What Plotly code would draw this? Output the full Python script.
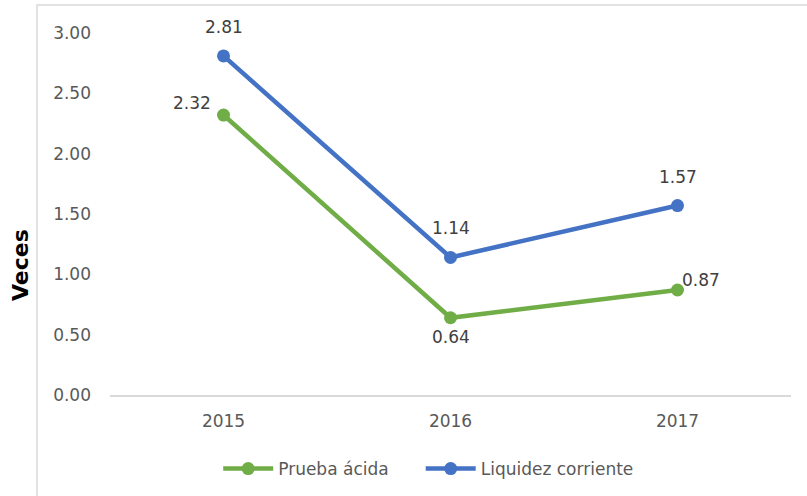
import plotly.graph_objects as go

years = ["2015", "2016", "2017"]
prueba_acida = [2.32, 0.64, 0.87]
liquidez_corriente = [2.81, 1.14, 1.57]
y_ticks = [0, 0.5, 1.0, 1.5, 2.0, 2.5, 3.0]

GREEN = "#70AD47"
BLUE = "#4472C4"
FONT = "DejaVu Sans"
NB = "\u00a0"

W, H = 807, 496
L, R, T, B = 110, 791, 33, 395

def px(x):
    return (x - L) / (R - L)

def py(y):
    return (B - y) / (B - T)

fig = go.Figure()
fig.add_trace(go.Scatter(x=years, y=prueba_acida, mode="lines+markers", name="Prueba ácida" + NB * 5,
                         line=dict(color=GREEN, width=4.5), marker=dict(size=13, color=GREEN)))
fig.add_trace(go.Scatter(x=years, y=liquidez_corriente, mode="lines+markers", name="Liquidez corriente",
                         line=dict(color=BLUE, width=4.5), marker=dict(size=13, color=BLUE)))

annotations = []
green_off = [(-32, 12), (0, -19), (23, 10)]
blue_off = [(0, 29), (0, 29), (0, 29)]
for i, yr in enumerate(years):
    for vals, offs in ((prueba_acida, green_off), (liquidez_corriente, blue_off)):
        annotations.append(dict(x=i, y=vals[i], xref="x", yref="y", text=f"{vals[i]:.2f}", showarrow=False,
                                xanchor="center", yanchor="middle",
                                xshift=offs[i][0], yshift=offs[i][1],
                                font=dict(family=FONT, size=17, color="#404040")))

annotations.append(dict(xref="paper", yref="paper", x=px(20), y=py(265), text="<b>Veces</b>",
                        xanchor="center", yanchor="middle",
                        textangle=-90, showarrow=False, font=dict(family=FONT, size=22, color="#000000")))

fig.update_layout(
    width=W, height=H,
    margin=dict(l=L, r=W - R, t=T, b=H - B, autoexpand=False),
    paper_bgcolor="white", plot_bgcolor="white",
    font=dict(family=FONT, size=17, color="#595959"),
    xaxis=dict(type="category", range=[-0.5, 2.5], showgrid=False, showline=True,
               linecolor="#D9D9D9", linewidth=1.5, ticks="", ticklabelstandoff=10,
               tickfont=dict(size=17, color="#595959")),
    yaxis=dict(range=[0, 3.0], tickvals=y_ticks, tickformat=".2f", showgrid=False, zeroline=False,
               showline=False, ticks="", ticklabelstandoff=18, tickfont=dict(size=17, color="#595959")),
    legend=dict(orientation="h", x=px(225) - 0.01, xanchor="left", y=py(469), yanchor="middle",
                font=dict(family=FONT, size=17, color="#595959"), itemwidth=50),
    annotations=annotations,
    shapes=[dict(type="rect", xref="paper", yref="paper", x0=px(37), x1=px(830), y0=py(520), y1=py(5),
                 line=dict(color="#D9D9D9", width=1.5), layer="below")],
    showlegend=True,
)

fig.write_html("out.html", config={"displayModeBar": False},
               post_script="document.body.style.margin='0';document.body.style.overflow='hidden';")
